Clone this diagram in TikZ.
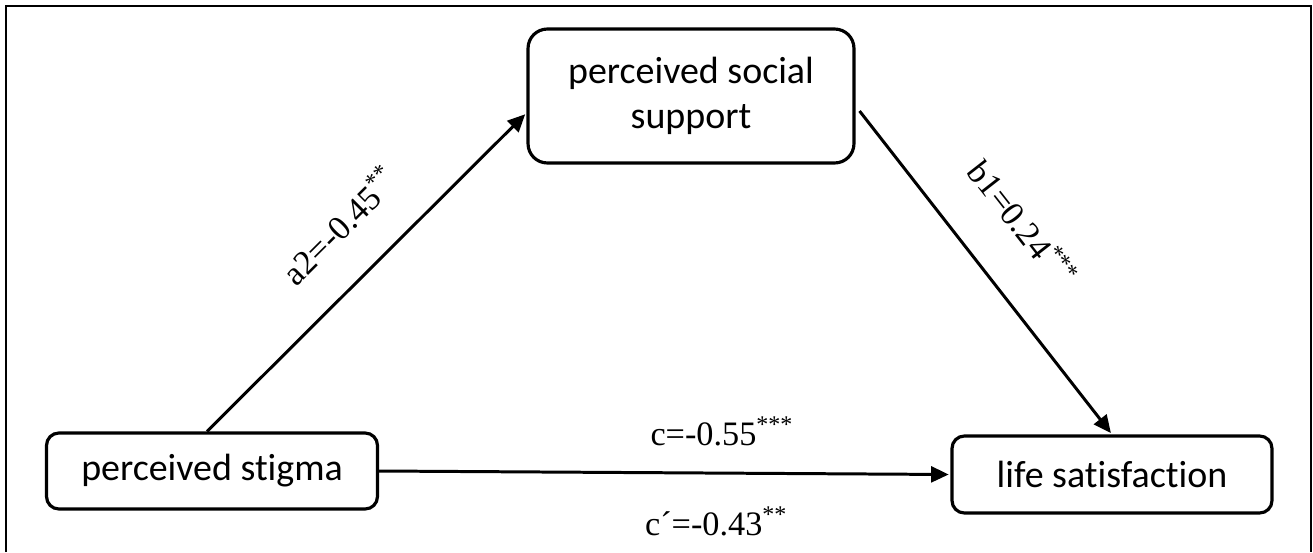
\documentclass[tikz,border=0pt]{standalone}
\usepackage{fontspec}
\setmainfont{Liberation Serif}
\newfontfamily\boxfont[Ligatures=NoCommon]{Carlito}
\usetikzlibrary{arrows.meta}

\begin{document}
\begin{tikzpicture}[
    x=0.02cm, y=-0.02cm,
    tip/.tip={Triangle[length=10pt,width=9pt]},
    varbox/.style={draw, line width=1.8pt, rounded corners=7pt, align=center,
        inner sep=0pt, font=\boxfont\fontsize{21.6}{26}\selectfont},
    effect/.style={line width=1.7pt, -tip, shorten >=1pt},
    coef/.style={font=\fontsize{19.5}{22}\selectfont},
]
    \useasboundingbox (0,0) rectangle (1313,552);
    % frame, open at the bottom
    \draw[line width=1pt] (6,552) -- (6,6) -- (1311,6) -- (1311,552);

    \node[varbox, minimum width=6.62cm, minimum height=1.52cm] (stigma) at (212,471) {perceived stigma};
    \node[varbox, minimum width=6.52cm, minimum height=2.68cm, rounded corners=11pt] (support) at (691,96) {perceived social\\support};
    \node[varbox, minimum width=6.4cm, minimum height=1.54cm] (life) at (1112,474.5) {life satisfaction};

    \draw[effect] ([xshift=-0.1cm]stigma.north) -- node[coef, sloped, pos=0.53, above=0.62cm] {a2=-0.45\textsuperscript{**}} ([yshift=-0.34cm]support.west);
    \draw[effect] ([shift={(4,15)}]support.east) -- node[coef, sloped, pos=0.46, above=0.77cm] {b1=0.24\textsuperscript{***}} (life.north);
    \draw[effect] (stigma.east) -- node[coef, pos=0.6, above=0.4cm] {c=-0.55\textsuperscript{***}}
        node[coef, pos=0.59, below=0.52cm] {c´=-0.43\textsuperscript{**}} (life.west);
\end{tikzpicture}
\end{document}
